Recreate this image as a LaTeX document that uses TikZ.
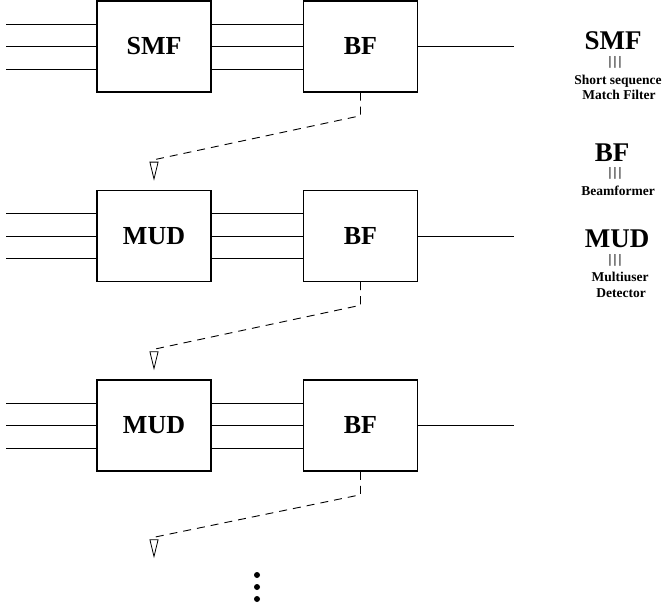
\documentclass[tikz,border=0pt]{standalone}
\usepackage{fontspec}
\setmainfont{Liberation Serif}
\usetikzlibrary{arrows.meta,positioning}

\begin{document}
\begin{tikzpicture}[
    x=1pt,y=1pt,
    node distance=97pt and 91pt,
    blk/.style={draw,line width=1.5pt,minimum width=114pt,
                minimum height=91pt,inner sep=0pt,
                font=\fontsize{26}{30}\selectfont\bfseries},
    wire/.style={line width=0.8pt},
    fb/.style={line width=0.9pt,dash pattern=on 8pt off 6pt,
               -{Triangle[open,length=19pt,width=9pt,line width=0.8pt]}},
    abbr/.style={anchor=base,inner sep=0pt,
                 font=\fontsize{27}{30}\selectfont\bfseries},
    bars/.style={anchor=base,inner sep=0pt,
                 font=\fontsize{13}{15}\selectfont\bfseries},
    desc/.style={anchor=base,inner sep=0pt,
                 font=\fontsize{13.5}{15}\selectfont\bfseries},
    dot/.style={circle,fill,inner sep=0pt,minimum size=6pt},
  ]
    \useasboundingbox (0,0) rectangle (663,611);
    \node[blk] (smf) at (154,564.5) {SMF};
    \node[blk,right=of smf] (bf1) {BF};
    \node[blk,below=of smf] (mud1) {MUD};
    \node[blk,right=of mud1] (bf2) {BF};
    \node[blk,below=of mud1] (mud2) {MUD};
    \node[blk,right=of mud2] (bf3) {BF};
    \coordinate (mud3) at ([yshift=-188]mud2.north);
    \foreach \m/\b in {smf/bf1,mud1/bf2,mud2/bf3}{
      \foreach \o in {22.5,0,-22.5}{
        \draw[wire] ([yshift=\o]\m.west) -- ++(-90,0);
        \draw[wire] ([yshift=\o]\m.east) -- ([yshift=\o]\b.west);
      }
      \draw[wire] (\b.east) -- ++(96,0);
    }
    % feedback to the next stage
    \draw[fb] (bf1.south) -- ++(0,-23) -- ([yshift=30]mud1.north)
      -- ([yshift=9]mud1.north);
    \draw[fb] (bf2.south) -- ++(0,-23) -- ([yshift=30]mud2.north)
      -- ([yshift=9]mud2.north);
    \draw[fb] (bf3.south) -- ++(0,-23) -- ([yshift=30]mud3)
      -- ([yshift=9]mud3);
    \foreach \i/\y in {1/36,2/24,3/12}
      \node[dot] (dot\i) at (257,\y) {};
    % legend
    \node[abbr] (lsmf) at (613,561) {SMF};
    \node[bars] (lsmfbar) at (615,545.5) {|\,|\,|};
    \node[desc] (lsmfa) at (618,526) {Short sequence};
    \node[desc] (lsmfb) at (619,511) {Match Filter};
    \node[abbr] (lbf) at (612,449) {BF};
    \node[bars] (lbfbar) at (615,434.5) {|\,|\,|};
    \node[desc] (lbfa) at (618,415) {Beamformer};
    \node[abbr] (lmud) at (617,363) {MUD};
    \node[bars] (lmudbar) at (615,347.5) {|\,|\,|};
    \node[desc] (lmuda) at (620,329) {Multiuser};
    \node[desc] (lmudb) at (621,313) {Detector};
\end{tikzpicture}
\end{document}
